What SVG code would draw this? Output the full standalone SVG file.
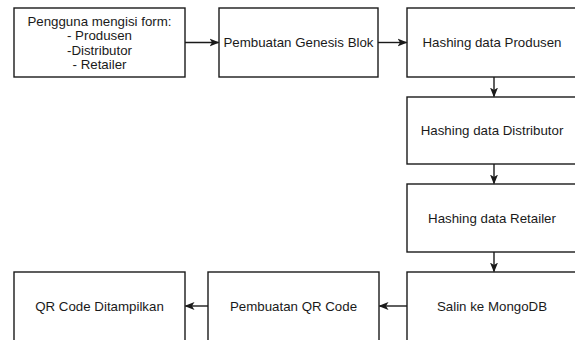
<svg xmlns="http://www.w3.org/2000/svg" width="575" height="340" viewBox="0 0 575 340">
  <defs>
    <style>
      .box { fill: #ffffff; stroke: #1a1a1a; stroke-width: 1.4; }
      .lbl { font-family: "Liberation Sans", Arial, sans-serif; font-size: 13.3px; fill: #1a1a1a; text-anchor: middle; }
      .edge { fill: none; stroke: #1a1a1a; stroke-width: 1.4; }
    </style>
    <marker id="arr" viewBox="0 0 10 10" refX="9" refY="5" markerWidth="10" markerHeight="10" markerUnits="userSpaceOnUse" orient="auto">
      <path d="M0,1 L10,5 L0,9 L2.5,5 Z" fill="#1a1a1a"/>
    </marker>
  </defs>
  <rect width="575" height="340" fill="#ffffff"/>

  <g id="n1">
    <rect class="box" x="14" y="8" width="171" height="69"/>
    <text class="lbl" x="99.5" y="25.5">Pengguna mengisi form:</text>
    <text class="lbl" x="99.5" y="40">- Produsen</text>
    <text class="lbl" x="99.5" y="54.5">-Distributor</text>
    <text class="lbl" x="99.5" y="69">- Retailer</text>
  </g>
  <g id="n2">
    <rect class="box" x="219" y="8" width="159" height="69"/>
    <text class="lbl" x="298.5" y="47">Pembuatan Genesis Blok</text>
  </g>
  <g id="n3">
    <rect class="box" x="407" y="8" width="174" height="69"/>
    <text class="lbl" x="492" y="47">Hashing data Produsen</text>
  </g>
  <g id="n4">
    <rect class="box" x="407" y="97" width="174" height="67"/>
    <text class="lbl" x="492" y="135">Hashing data Distributor</text>
  </g>
  <g id="n5">
    <rect class="box" x="407" y="184" width="174" height="68"/>
    <text class="lbl" x="492" y="223">Hashing data Retailer</text>
  </g>
  <g id="n6">
    <rect class="box" x="407" y="272" width="174" height="69"/>
    <text class="lbl" x="492" y="310.5">Salin ke MongoDB</text>
  </g>
  <g id="n7">
    <rect class="box" x="208" y="272" width="171" height="69"/>
    <text class="lbl" x="293.5" y="310.5">Pembuatan QR Code</text>
  </g>
  <g id="n8">
    <rect class="box" x="14" y="272" width="171" height="69"/>
    <text class="lbl" x="99.5" y="310.5">QR Code Ditampilkan</text>
  </g>

  <g id="connectors">
    <line class="edge" x1="185" y1="42.5" x2="218.5" y2="42.5" marker-end="url(#arr)"/>
    <line class="edge" x1="378" y1="42.5" x2="406.5" y2="42.5" marker-end="url(#arr)"/>
    <line class="edge" x1="494" y1="77" x2="494" y2="96.5" marker-end="url(#arr)"/>
    <line class="edge" x1="494" y1="164" x2="494" y2="183.5" marker-end="url(#arr)"/>
    <line class="edge" x1="494" y1="252" x2="494" y2="271.5" marker-end="url(#arr)"/>
    <line class="edge" x1="407" y1="306" x2="379.5" y2="306" marker-end="url(#arr)"/>
    <line class="edge" x1="208" y1="306" x2="185.5" y2="306" marker-end="url(#arr)"/>
  </g>
</svg>
